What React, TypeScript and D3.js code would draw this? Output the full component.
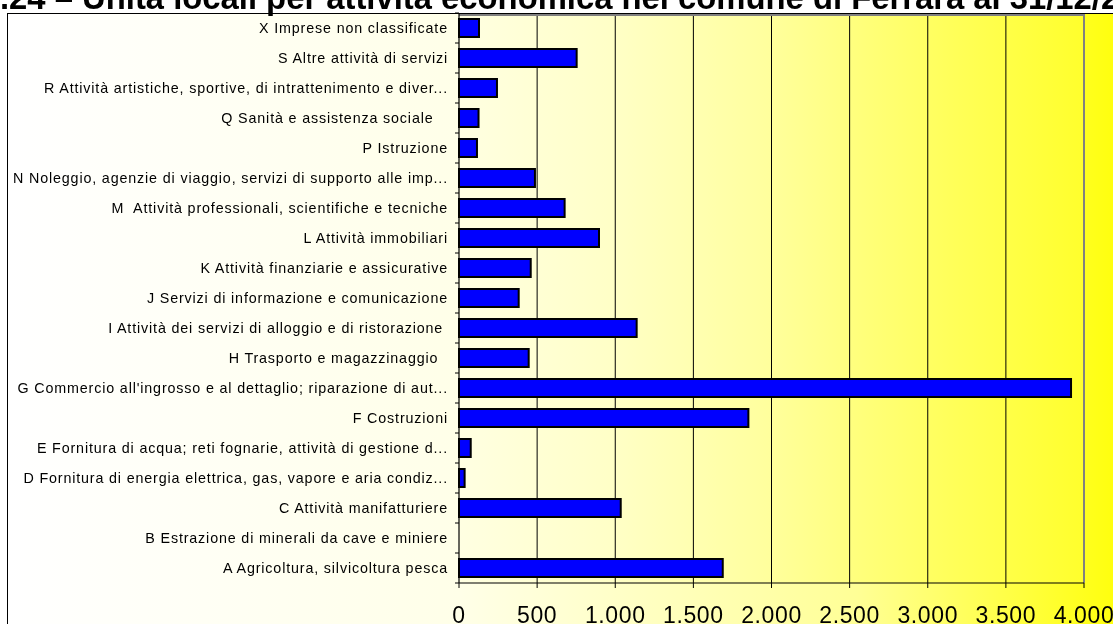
import * as d3 from "d3";
import { useMemo } from "react";

// Categories from bottom (A) to top (X), as in the source chart
const categories = [
  "A Agricoltura, silvicoltura pesca",
  "B Estrazione di minerali da cave e miniere",
  "C Attività manifatturiere",
  "D Fornitura di energia elettrica, gas, vapore e aria condiz...",
  "E Fornitura di acqua; reti fognarie, attività di gestione d...",
  "F Costruzioni",
  "G Commercio all'ingrosso e al dettaglio; riparazione di aut...",
  "H Trasporto e magazzinaggio  ",
  "I Attività dei servizi di alloggio e di ristorazione ",
  "J Servizi di informazione e comunicazione",
  "K Attività finanziarie e assicurative",
  "L Attività immobiliari",
  "M  Attività professionali, scientifiche e tecniche",
  "N Noleggio, agenzie di viaggio, servizi di supporto alle imp...",
  "P Istruzione",
  "Q Sanità e assistenza sociale   ",
  "R Attività artistiche, sportive, di intrattenimento e diver...",
  "S Altre attività di servizi",
  "X Imprese non classificate",
];

const values = [
  1688, 0, 1035, 36, 75, 1852, 3917, 446, 1137, 382, 459, 896, 676, 486, 115,
  125, 243, 753, 128,
];

const xTicks = [0, 500, 1000, 1500, 2000, 2500, 3000, 3500, 4000];

const title =
  ".24 – Unità locali per attività economica nel comune di Ferrara al 31/12/2011";

const W = 1113;
const H = 624;

const itFormat = d3.formatLocale({
  decimal: ",",
  thousands: ".",
  grouping: [3],
  currency: ["€", ""],
}).format(",");

export default function App() {
  const plot = { left: 459, right: 1084, top: 13, bottom: 583 };

  const xScale = useMemo(
    () => d3.scaleLinear().domain([0, 4000]).range([plot.left, plot.right]),
    []
  );

  // top of the chart is the last category
  const yScale = useMemo(
    () =>
      d3
        .scaleBand()
        .domain(categories.slice().reverse())
        .range([plot.top, plot.bottom])
        .paddingInner(0.4)
        .paddingOuter(0.2),
    []
  );

  const step = yScale.step();
  const bandEdges = d3.range(categories.length + 1).map((i) => plot.top + i * step);

  const font = "'Liberation Sans', Arial, sans-serif";

  return (
    <svg
      width={W}
      height={H}
      style={{ position: "fixed", left: 0, top: 0, display: "block" }}
    >
      <defs>
        <linearGradient id="chartBg" x1="0" x2="1" y1="0" y2="0">
          <stop offset="0" stopColor="#FFFFFF" />
          <stop offset="0.4" stopColor="#FFFFE8" />
          <stop offset="0.75" stopColor="#FFFF96" />
          <stop offset="1" stopColor="#FFFF00" />
        </linearGradient>
        <linearGradient id="plotBg" x1="0" x2="1" y1="0" y2="0">
          <stop offset="0" stopColor="#FFFFE2" />
          <stop offset="0.25" stopColor="#FFFFC6" />
          <stop offset="0.5" stopColor="#FFFF9C" />
          <stop offset="0.75" stopColor="#FFFF62" />
          <stop offset="1" stopColor="#FFFF2C" />
        </linearGradient>
      </defs>

      <rect x={0} y={0} width={W} height={H} fill="#FFFFFF" />

      {/* chart area */}
      <rect
        x={7.5}
        y={13.5}
        width={W + 20}
        height={H + 20}
        fill="url(#chartBg)"
        stroke="#000"
        strokeWidth={1}
      />

      {/* plot area */}
      <rect
        x={plot.left}
        y={plot.top + 2}
        width={plot.right - plot.left}
        height={plot.bottom - plot.top - 2}
        fill="url(#plotBg)"
      />

      {/* gridlines */}
      {xTicks.slice(1, -1).map((t) => (
        <line
          key={t}
          x1={xScale(t)}
          x2={xScale(t)}
          y1={plot.top + 2}
          y2={plot.bottom}
          stroke="#000"
          strokeWidth={1}
        />
      ))}

      {/* plot border (top and right) */}
      <path
        d={`M${plot.left},${plot.top + 2}H${plot.right}V${plot.bottom}`}
        fill="none"
        stroke="#808080"
        strokeWidth={2}
      />

      {/* bars */}
      {categories.map((c, i) => {
        const y = yScale(c);
        if (y === undefined || values[i] <= 0) return null;
        return (
          <rect
            key={c}
            x={xScale(0)}
            y={y}
            width={xScale(values[i]) - xScale(0)}
            height={yScale.bandwidth()}
            fill="#0000FF"
            stroke="#000"
            strokeWidth={2}
          />
        );
      })}

      {/* y axis */}
      <line
        x1={plot.left}
        x2={plot.left}
        y1={plot.top}
        y2={plot.bottom}
        stroke="#000"
        strokeWidth={1.2}
      />
      {bandEdges.map((e, i) => (
        <line
          key={i}
          x1={plot.left - 4}
          x2={plot.left}
          y1={e}
          y2={e}
          stroke="#000"
          strokeWidth={1}
        />
      ))}
      {categories.map((c) => (
        <text
          key={c}
          x={448}
          y={(yScale(c) ?? 0) + yScale.bandwidth() / 2}
          dy="0.35em"
          textAnchor="end"
          fontFamily={font}
          fontSize={14.3}
          letterSpacing={0.85}
          fill="#000"
          style={{ whiteSpace: "pre" }}
        >
          {c}
        </text>
      ))}

      {/* x axis */}
      <line
        x1={plot.left}
        x2={plot.right}
        y1={plot.bottom}
        y2={plot.bottom}
        stroke="#000"
        strokeWidth={1.2}
      />
      {xTicks.map((t) => (
        <g key={t}>
          <line
            x1={xScale(t)}
            x2={xScale(t)}
            y1={plot.bottom}
            y2={plot.bottom + 5}
            stroke="#000"
            strokeWidth={1}
          />
          <text
            x={xScale(t)}
            y={623}
            textAnchor="middle"
            fontFamily={font}
            fontSize={23}
            letterSpacing={0.6}
            fill="#000"
          >
            {itFormat(t)}
          </text>
        </g>
      ))}

      {/* title, cropped at the top */}
      <text
        x={0}
        y={9}
        fontFamily={font}
        fontSize={32.8}
        fontWeight="bold"
        fill="#000"
      >
        {title}
      </text>
    </svg>
  );
}
